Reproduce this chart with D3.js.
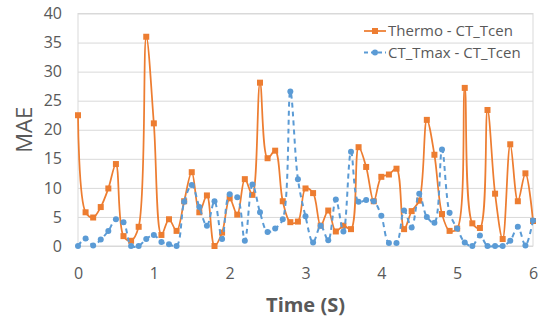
<!DOCTYPE html>
<html>
<head>
<meta charset="utf-8">
<script src="https://cdn.jsdelivr.net/npm/d3@7"></script>
<style>
  html, body { margin: 0; padding: 0; background: #fff; }
  svg text { font-family: "Open Sans", "Noto Sans", sans-serif; fill: #595959; }
</style>
</head>
<body>
<svg id="chart" width="544" height="320"></svg>
<script>
// Sample times (s), one point every 0.1 s.
const times = [0, 0.1, 0.2, 0.3, 0.4, 0.5, 0.6, 0.7, 0.8, 0.9,
               1, 1.1, 1.2, 1.3, 1.4, 1.5, 1.6, 1.7, 1.8, 1.9,
               2, 2.1, 2.2, 2.3, 2.4, 2.5, 2.6, 2.7, 2.8, 2.9,
               3, 3.1, 3.2, 3.3, 3.4, 3.5, 3.6, 3.7, 3.8, 3.9,
               4, 4.1, 4.2, 4.3, 4.4, 4.5, 4.6, 4.7, 4.8, 4.9,
               5, 5.1, 5.2, 5.3, 5.4, 5.5, 5.6, 5.7, 5.8, 5.9, 6];

const thermo = [22.5, 5.8, 4.9, 6.7, 9.9, 14.1, 1.7, 0.9, 3.3, 36,
                21.1, 1.9, 4.6, 2.6, 7.7, 12.7, 5.8, 8.7, 0, 2.3,
                8.2, 5.4, 11.5, 8.8, 28.1, 15.1, 16.4, 7.7, 4.1, 4.2,
                9.9, 9.1, 3.5, 6.1, 2.5, 3.5, 2.9, 17.0, 13.6, 7.7,
                11.9, 12.3, 13.3, 2.9, 6.0, 7.8, 21.7, 15.7, 5.5, 2.6,
                3.0, 27.2, 3.9, 3.1, 23.4, 9.0, 1.2, 17.5, 7.7, 12.5, 4.3];

const ctMax = [0, 1.3, 0.1, 1.1, 2.6, 4.6, 4.1, 0, 0, 1.2,
               1.9, 0.7, 0.3, 0, 7.6, 10.5, 6.7, 3.5, 7.7, 1.2,
               8.9, 8.4, 0.9, 10.6, 5.8, 2.4, 3.0, 4.6, 26.6, 11.5,
               5.1, 0.6, 3.5, 1.0, 8.0, 2.5, 16.2, 7.6, 7.9, 7.7,
               5.2, 0.5, 0.5, 6.1, 3.2, 9.0, 5.0, 4.0, 16.6, 5.7,
               3.0, 0.6, 0, 1.8, 0, 0, 0, 0.9, 3.3, 0.1, 4.4];

const xTicks = [0, 1, 2, 3, 4, 5, 6];
const yTicks = [0, 5, 10, 15, 20, 25, 30, 35, 40];
const seriesNames = ["Thermo - CT_Tcen", "CT_Tmax - CT_Tcen"];
const seriesColors = ["#ed7d31", "#5b9bd5"];

const svg = d3.select("#chart");
const margin = { top: 13.5, right: 11, bottom: 74, left: 78 };
const width = +svg.attr("width") - margin.left - margin.right;
const height = +svg.attr("height") - margin.top - margin.bottom;

const x = d3.scaleLinear().domain([0, 6]).range([0, width]);
const y = d3.scaleLinear().domain([0, 40]).range([height, 0]);

const g = svg.append("g")
    .attr("transform", `translate(${margin.left},${margin.top})`);

// Horizontal gridlines + y labels.
g.append("g")
    .call(d3.axisLeft(y).tickValues(yTicks).tickSize(-width).tickPadding(16))
    .call(a => a.select(".domain").remove())
    .call(a => a.selectAll("line").attr("stroke", "#d9d9d9"))
    .call(a => a.selectAll("text").attr("font-size", 16).attr("font-family", null).attr("fill", "#595959"));

// X labels.
g.append("g")
    .attr("transform", `translate(0,${height})`)
    .call(d3.axisBottom(x).tickValues(xTicks).tickFormat(d3.format("d")).tickSize(0).tickPadding(22))
    .call(a => a.select(".domain").remove())
    .call(a => a.selectAll("text").attr("font-size", 16).attr("font-family", null).attr("fill", "#595959"));

// Plot frame.
g.append("rect")
    .attr("width", width).attr("height", height)
    .attr("fill", "none").attr("stroke", "#d9d9d9");

// Axis titles.
svg.append("text")
    .attr("x", margin.left + width / 2).attr("y", 312)
    .attr("text-anchor", "middle")
    .attr("font-size", 20).attr("font-weight", "bold")
    .text("Time (S)");

svg.append("text")
    .attr("transform", `translate(32,${margin.top + height / 2}) rotate(-90)`)
    .attr("text-anchor", "middle")
    .attr("font-size", 22)
    .text("MAE");

const line = d3.line()
    .x((d, i) => x(times[i]))
    .y(d => y(d))
    .curve(d3.curveCatmullRom);

// Thermo series: solid line with square markers.
g.append("path")
    .datum(thermo)
    .attr("fill", "none")
    .attr("stroke", seriesColors[0])
    .attr("stroke-width", 1.75)
    .attr("d", line);

g.selectAll(".sq")
    .data(thermo)
    .enter()
    .append("rect")
    .attr("class", "sq")
    .attr("x", (d, i) => x(times[i]) - 3)
    .attr("y", d => y(d) - 3)
    .attr("width", 6).attr("height", 6)
    .attr("fill", seriesColors[0]);

// CT_Tmax series: dashed line with circle markers.
g.append("path")
    .datum(ctMax)
    .attr("fill", "none")
    .attr("stroke", seriesColors[1])
    .attr("stroke-width", 2)
    .attr("stroke-dasharray", "5,4")
    .attr("d", line);

g.selectAll(".dot")
    .data(ctMax)
    .enter()
    .append("circle")
    .attr("class", "dot")
    .attr("cx", (d, i) => x(times[i]))
    .attr("cy", d => y(d))
    .attr("r", 3)
    .attr("fill", seriesColors[1]);

// Legend.
const legend = svg.append("g").attr("transform", "translate(364,31)");
seriesNames.forEach((name, i) => {
    const row = legend.append("g").attr("transform", `translate(0,${i * 21.5})`);
    row.append("line")
        .attr("x1", 0).attr("x2", 22)
        .attr("stroke", seriesColors[i])
        .attr("stroke-width", i === 0 ? 1.75 : 2)
        .attr("stroke-dasharray", i === 0 ? null : "4,3");
    if (i === 0) {
        row.append("rect").attr("x", 8).attr("y", -3).attr("width", 6).attr("height", 6).attr("fill", seriesColors[0]);
    } else {
        row.append("circle").attr("cx", 11).attr("r", 3).attr("fill", seriesColors[1]);
    }
    row.append("text")
        .attr("x", 24).attr("dy", "0.35em")
        .attr("font-size", 15)
        .text(name);
});
</script>
</body>
</html>
